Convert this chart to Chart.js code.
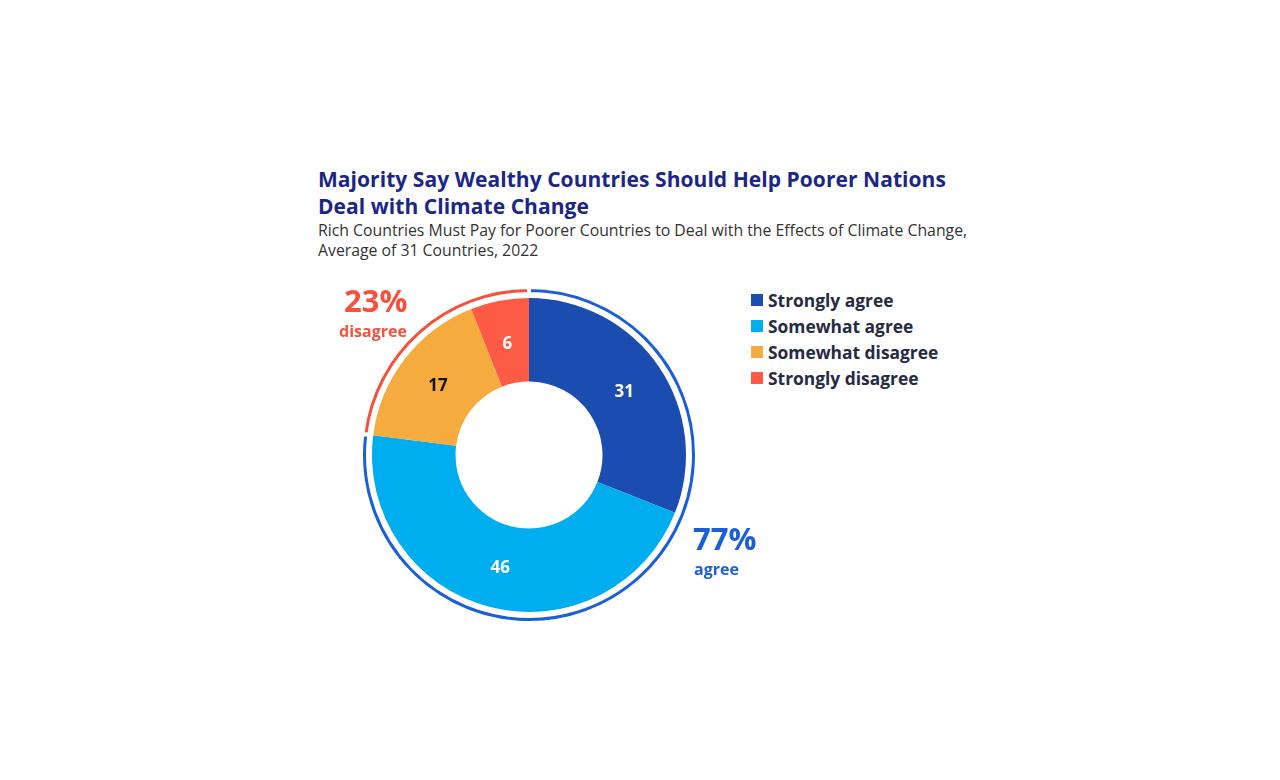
<!DOCTYPE html>
<html>
<head>
<meta charset="utf-8">
<script src="https://cdn.jsdelivr.net/npm/chart.js@4.4.1/dist/chart.umd.min.js"></script>
<style>
  html, body { margin: 0; padding: 0; background: #ffffff; width: 1280px; height: 780px; overflow: hidden; }
  body { position: relative; font-family: "Open Sans", "Noto Sans", sans-serif; }
  .t { position: absolute; white-space: nowrap; }
  .title { left: 318px; font-weight: 700; font-size: 21px; height: 25px; line-height: 25px; color: #1b2785; letter-spacing: 0.05px; }
  .sub { left: 318px; font-size: 15.8px; height: 20px; line-height: 20px; color: #333333; letter-spacing: 0px; }
  #chartBox { position: absolute; left: 359px; top: 285px; width: 340px; height: 340px; }
  .big { font-weight: 700; font-size: 31px; height: 32px; line-height: 32px; }
  .small { font-weight: 700; font-size: 16px; height: 20px; line-height: 20px; }
  #legend { position: absolute; left: 751px; top: 287px; }
  .lg-row { display: flex; align-items: center; height: 26px; font-weight: 700; font-size: 17.4px; color: #262b44; white-space: nowrap; }
  .lg-box { width: 12px; height: 12px; margin-right: 5px; }
</style>
</head>
<body>
<div class="t title" style="top:167px;">Majority Say Wealthy Countries Should Help Poorer Nations</div>
<div class="t title" style="top:194px;">Deal with Climate Change</div>
<div class="t sub" style="top:220px;">Rich Countries Must Pay for Poorer Countries to Deal with the Effects of Climate Change,</div>
<div class="t sub" style="top:240px;">Average of 31 Countries, 2022</div>
<div id="chartBox"><canvas id="c"></canvas></div>
<div class="t big" style="left:344px; top:284px; color:#f4523d;">23%</div>
<div class="t small" style="left:339px; top:321px; color:#f4523d;">disagree</div>
<div class="t big" style="left:693px; top:522px; color:#1a5fd6;">77%</div>
<div class="t small" style="left:694px; top:559px; color:#1a5fd6;">agree</div>
<div id="legend"></div>
<script>
const categories = ["Strongly agree", "Somewhat agree", "Somewhat disagree", "Strongly disagree"];
const values = [31, 46, 17, 6];
const sliceColors = ["#1b4cb0", "#00aeef", "#f5ab3d", "#fe5b46"];
const valueLabelColors = ["#ffffff", "#ffffff", "#111111", "#ffffff"];
const netLabels = ["agree", "disagree"];
const netShares = [77, 23];
const netColors = ["#1a5fd6", "#f4523d"];

// HTML legend built from the category arrays
const legend = document.getElementById('legend');
categories.forEach((c, i) => {
  const row = document.createElement('div');
  row.className = 'lg-row';
  row.innerHTML = '<div class="lg-box" style="background:' + sliceColors[i] + '"></div>' + c;
  legend.appendChild(row);
});

const valueLabels = {
  id: 'valueLabels',
  afterDatasetsDraw(chart) {
    const meta = chart.getDatasetMeta(2);
    const ctx = chart.ctx;
    ctx.save();
    ctx.font = '700 17px "Open Sans", "Noto Sans", sans-serif';
    ctx.textAlign = 'center';
    ctx.textBaseline = 'middle';
    meta.data.forEach((arc, i) => {
      const p = arc.tooltipPosition();
      ctx.fillStyle = valueLabelColors[i];
      ctx.fillText(String(values[i]), p.x, p.y + 2);
    });
    ctx.restore();
  }
};

new Chart(document.getElementById('c'), {
  type: 'doughnut',
  data: {
    labels: categories,
    datasets: [
      { label: 'net', data: netShares, backgroundColor: netColors, borderColor: '#ffffff', borderWidth: 4, weight: 7 },
      { label: 'spacer', data: [100], backgroundColor: 'rgba(0,0,0,0)', borderWidth: 0, weight: 4 },
      { label: 'share', data: values, backgroundColor: sliceColors, borderWidth: 0, weight: 83.5 }
    ]
  },
  options: {
    responsive: true,
    maintainAspectRatio: false,
    animation: false,
    cutout: 73.5,
    layout: { padding: 0 },
    plugins: { legend: { display: false }, tooltip: { enabled: false }, title: { display: false } }
  },
  plugins: [valueLabels]
});
</script>
</body>
</html>
